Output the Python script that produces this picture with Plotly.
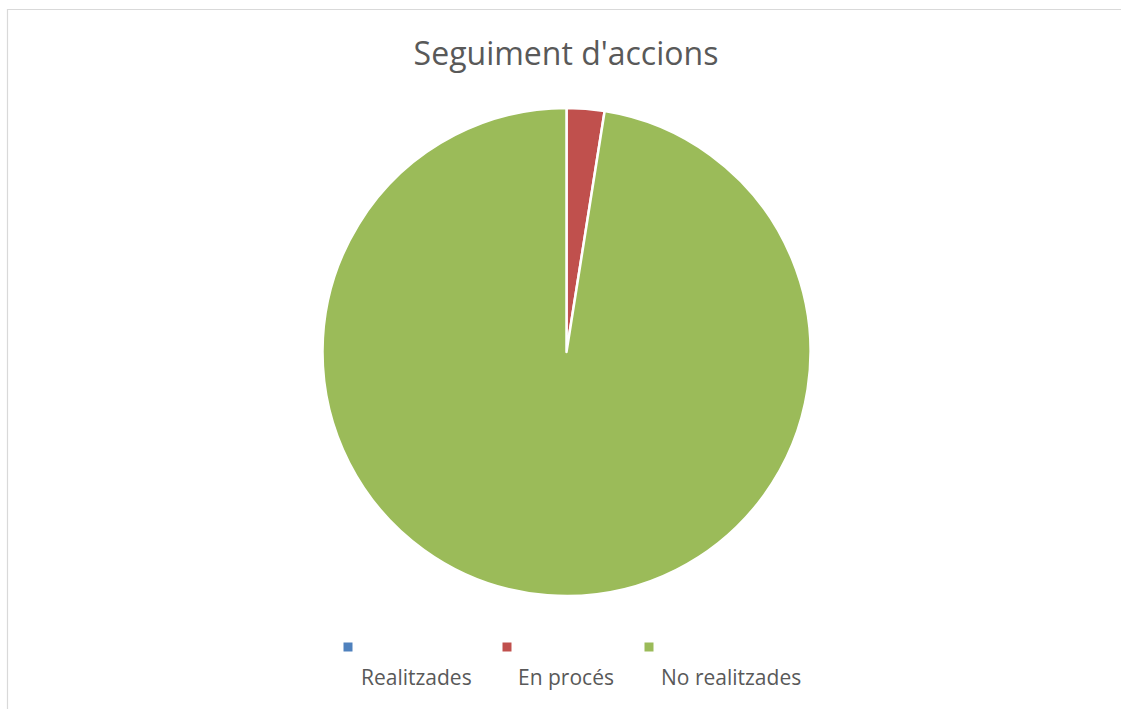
import plotly.graph_objects as go

labels = ["Realitzades", "En procés", "No realitzades"]
values = [0, 1, 39]
colors = ["#4F81BD", "#C0504D", "#9BBB59"]
title_text = "Seguiment d'accions"

W, H = 1121, 709

fig = go.Figure()
fig.add_trace(go.Pie(
    labels=labels, values=values, sort=False, direction="clockwise", rotation=0,
    marker=dict(colors=colors, line=dict(color="white", width=2.5)),
    textinfo="none", hoverinfo="label+value+percent", showlegend=False,
    domain=dict(x=[322 / W, 811 / W], y=[(H - 596) / H, (H - 108) / H]),
))

shapes = [dict(type="rect", xref="paper", yref="paper",
               x0=7.5 / W, x1=1.01, y0=-0.01, y1=(H - 9.5) / H,
               line=dict(color="#D9D9D9", width=1.2), fillcolor="rgba(0,0,0,0)")]
annotations = []
marker_x = [348, 507, 649]
text_x = [416, 566, 731]
for lab, col, mx, tx in zip(labels, colors, marker_x, text_x):
    shapes.append(dict(type="rect", xref="paper", yref="paper",
                       x0=(mx - 4.5) / W, x1=(mx + 4.5) / W,
                       y0=(H - 651.5) / H, y1=(H - 642.5) / H,
                       fillcolor=col, line=dict(width=0)))
    annotations.append(dict(text=lab, xref="paper", yref="paper",
                            x=tx / W, y=(H - 677) / H, xanchor="center", yanchor="middle",
                            showarrow=False,
                            font=dict(family="Open Sans", size=21, color="#595959")))

fig.update_layout(
    width=W, height=H, margin=dict(l=0, r=0, t=0, b=0),
    paper_bgcolor="white", plot_bgcolor="white",
    title=dict(text=title_text, x=566 / W, xanchor="center", y=(H - 54) / H, yanchor="middle",
               font=dict(family="Open Sans", size=32, color="#595959")),
    shapes=shapes, annotations=annotations,
)

fig.write_html("out.html", config={"displayModeBar": False},
               post_script="document.body.style.margin='0';document.body.style.overflow='hidden';")
